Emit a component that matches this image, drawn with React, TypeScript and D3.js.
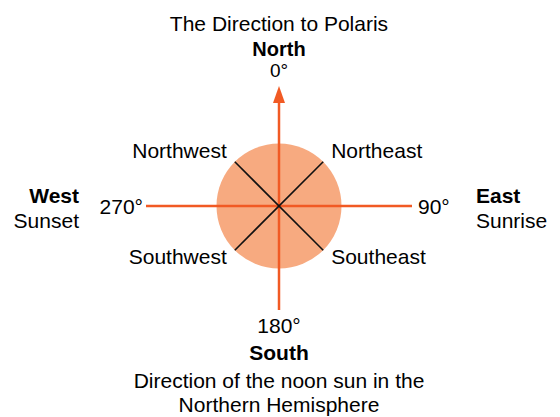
import React, { useEffect, useRef } from 'react';
import * as d3 from 'd3';

const title = 'The Direction to Polaris';
const cardinals = ['North', 'East', 'South', 'West'];
const cardinalNotes = ['', 'Sunrise', '', 'Sunset'];
const bearings = [0, 90, 180, 270];
const degreeLabels = ['0°', '90°', '180°', '270°'];
const intercardinals = ['Northeast', 'Southeast', 'Southwest', 'Northwest'];
const interBearings = [45, 135, 225, 315];
const footnote = ['Direction of the noon sun in the', 'Northern Hemisphere'];

const W = 560, H = 417;
const cx = 279, cy = 206;
const orange = '#F15A24';
const font = '"Liberation Sans", Arial, Helvetica, sans-serif';

export default function App() {
  const ref = useRef<SVGSVGElement>(null);

  useEffect(() => {
    const svg = d3.select(ref.current);
    svg.selectAll('*').remove();

    const angle = d3.scaleLinear().domain([0, 360]).range([0, 2 * Math.PI]);
    const pt = (deg: number, r: number) => [cx + r * Math.sin(angle(deg)), cy - r * Math.cos(angle(deg))];

    // how far each axis runs from the centre (N, E, S, W)
    const armLen = [120, 133, 104, 133];
    const circleR = 62.5;

    svg.append('circle')
      .attr('cx', cx).attr('cy', cy).attr('r', circleR)
      .attr('fill', '#F7AA80');

    // axes (N-S, E-W)
    svg.append('line')
      .attr('x1', pt(bearings[2], armLen[2])[0]).attr('y1', pt(bearings[2], armLen[2])[1])
      .attr('x2', pt(bearings[0], armLen[0])[0]).attr('y2', pt(bearings[0], armLen[0])[1] + 17)
      .attr('stroke', orange).attr('stroke-width', 2.5);
    svg.append('path')
      .attr('d', `M${cx - 6},${cy - armLen[0] + 17} L${cx},${cy - armLen[0]} L${cx + 6},${cy - armLen[0] + 17} Z`)
      .attr('fill', orange);
    svg.append('line')
      .attr('x1', pt(bearings[3], armLen[3])[0]).attr('y1', cy)
      .attr('x2', pt(bearings[1], armLen[1])[0]).attr('y2', cy)
      .attr('stroke', orange).attr('stroke-width', 2.5);

    // diagonals
    svg.selectAll('line.diag')
      .data([45, 135])
      .enter().append('line')
      .attr('class', 'diag')
      .attr('x1', d => pt(d, circleR)[0]).attr('y1', d => pt(d, circleR)[1])
      .attr('x2', d => pt(d + 180, circleR)[0]).attr('y2', d => pt(d + 180, circleR)[1])
      .attr('stroke', '#111').attr('stroke-width', 1.6);

    const text = (x: number, y: number, s: string, anchor = 'middle', bold = false, size = 21) =>
      svg.append('text')
        .attr('x', x).attr('y', y)
        .attr('text-anchor', anchor)
        .attr('font-family', font)
        .attr('font-size', size)
        .attr('font-weight', bold ? 'bold' : 'normal')
        .attr('fill', '#000')
        .text(s);

    text(cx, 31, title);

    // North and 0° sit tight together, so slightly smaller
    text(cx, 55.5, cardinals[0], 'middle', true, 20);
    text(cx, 77, degreeLabels[0], 'middle', false, 19);

    // degree labels
    text(418, 213.5, degreeLabels[1], 'start');
    text(cx, 333, degreeLabels[2]);
    text(143, 213.5, degreeLabels[3], 'end');

    // cardinal names
    text(476, 202.5, cardinals[1], 'start', true);
    text(476, 228, cardinalNotes[1], 'start');
    text(cx, 360, cardinals[2], 'middle', true);
    text(79, 202.5, cardinals[3], 'end', true);
    text(79, 228, cardinalNotes[3], 'end');

    // intercardinals
    interBearings.forEach((b, i) => {
      const [x] = pt(b, circleR);
      const right = b < 180;
      const y = b === 45 || b === 315 ? 157.5 : 264;
      text(right ? x + 8 : x - 8, y, intercardinals[i], right ? 'start' : 'end');
    });

    footnote.forEach((s, i) => text(cx, 388 + i * 24, s));
  }, []);

  return (
    <svg ref={ref} width={W} height={H} style={{ position: 'absolute', left: 0, top: 0, background: '#fff' }} />
  );
}
